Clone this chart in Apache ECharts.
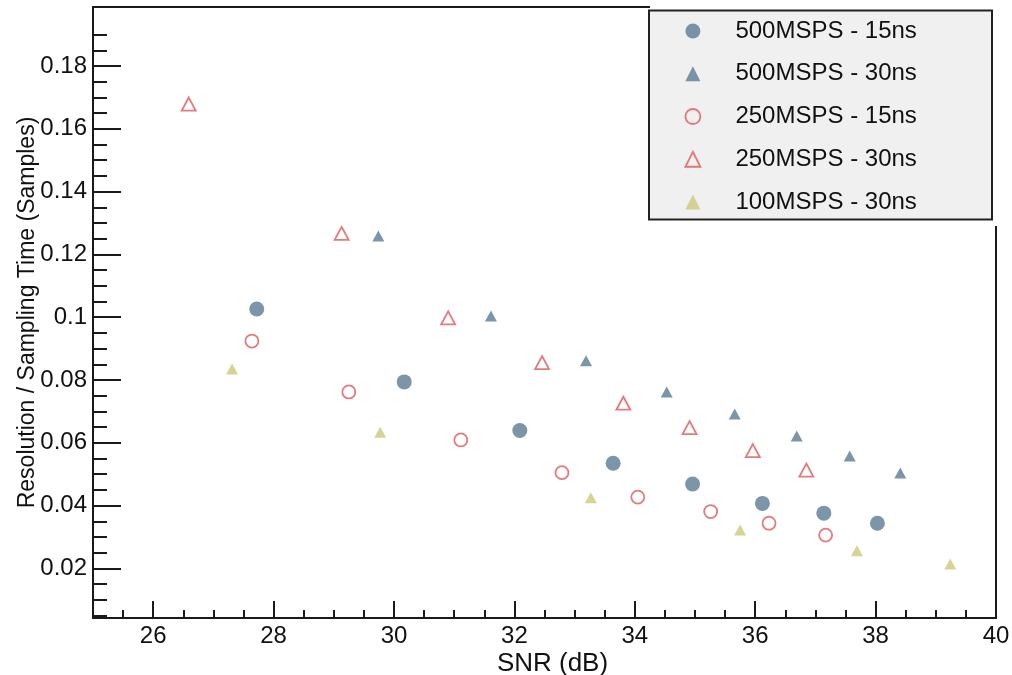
<!DOCTYPE html>
<html>
<head>
<meta charset="utf-8">
<script src="https://cdn.jsdelivr.net/npm/echarts@6/dist/echarts.min.js"></script>
<style>
  html, body { margin: 0; padding: 0; background: #ffffff; }
  #chart { width: 1012px; height: 675px; }
</style>
</head>
<body>
<div id="chart"></div>
<script>
// Timing resolution (in units of the sampling period) versus signal-to-noise ratio
const seriesNames = ['500MSPS - 15ns', '500MSPS - 30ns', '250MSPS - 15ns', '250MSPS - 30ns', '100MSPS - 30ns'];

const snr500_15 = [27.72, 30.17, 32.09, 33.64, 34.96, 36.12, 37.14, 38.03];
const res500_15 = [0.1026, 0.0794, 0.0639, 0.0535, 0.0469, 0.0407, 0.0376, 0.0344];

const snr500_30 = [29.74, 31.61, 33.19, 34.53, 35.66, 36.69, 37.57, 38.41];
const res500_30 = [0.1259, 0.1004, 0.0861, 0.0762, 0.0692, 0.0622, 0.0558, 0.0504];

const snr250_15 = [27.64, 29.25, 31.11, 32.79, 34.05, 35.26, 36.23, 37.17];
const res250_15 = [0.0924, 0.0762, 0.0609, 0.0505, 0.0427, 0.0381, 0.0344, 0.0306];

const snr250_30 = [26.59, 29.13, 30.90, 32.46, 33.81, 34.91, 35.96, 36.85];
const res250_30 = [0.1679, 0.1267, 0.0998, 0.0855, 0.0726, 0.0648, 0.0575, 0.0513];

const snr100_30 = [27.31, 29.77, 33.27, 35.75, 37.69, 39.24];
const res100_30 = [0.0835, 0.0634, 0.0425, 0.0322, 0.0256, 0.0214];

const xTickLabels = ['26', '28', '30', '32', '34', '36', '38', '40'];
const yTickLabels = ['0.02', '0.04', '0.06', '0.08', '0.1', '0.12', '0.14', '0.16', '0.18'];

const xMin = 25, xMax = 40;
const yMin = 0.0042, yMax = 0.1988;

const FONT = 'Liberation Sans, Arial, Helvetica, sans-serif';
const BLUE = '#5b7a94';
const RED = '#dc5a5d';
const YELLOW = '#cdc87a';

const xMajor = xTickLabels.map(Number);
const yMajor = yTickLabels.map(Number);
const xMinor = [];
for (let i = 1; i < 30; i++) xMinor.push(xMin + i * 0.5);
const yMinor = [];
for (let i = 1; i < 39; i++) yMinor.push(+(i * 0.005).toFixed(3));

function pairs(xs, ys) { return xs.map((x, i) => [x, ys[i]]); }

const chart = echarts.init(document.getElementById('chart'), null, { renderer: 'canvas' });

const openStyle = c => ({ color: 'rgba(0,0,0,0)', borderColor: c, borderWidth: 1.8 });

chart.setOption({
  animation: false,
  backgroundColor: '#ffffff',
  textStyle: { fontFamily: FONT },
  grid: {
    left: 93, top: 7, width: 903, height: 611,
    outerBoundsMode: 'none', containLabel: false,
    show: true, borderColor: '#1a1a1a', borderWidth: 2, backgroundColor: 'transparent'
  },
  xAxis: [
    {
      type: 'value', min: xMin, max: xMax, position: 'bottom',
      name: 'SNR (dB)', nameLocation: 'middle', nameGap: 33, nameMoveOverlap: false,
      nameTextStyle: { fontSize: 26, color: '#111', fontFamily: FONT, padding: [0, 0, 0, 16] },
      axisLine: { show: false },
      axisTick: { show: true, inside: true, length: 17, customValues: xMajor, lineStyle: { color: '#1a1a1a', width: 2 } },
      axisLabel: { show: true, customValues: xMajor, fontSize: 24, color: '#111', fontFamily: FONT, margin: 6 },
      splitLine: { show: false }
    },
    {
      type: 'value', min: xMin, max: xMax, position: 'bottom',
      axisLine: { show: false },
      axisTick: { show: true, inside: true, length: 8, customValues: xMinor, lineStyle: { color: '#1a1a1a', width: 2 } },
      axisLabel: { show: false },
      splitLine: { show: false }
    }
  ],
  yAxis: [
    {
      type: 'value', min: yMin, max: yMax, position: 'left',
      name: 'Resolution / Sampling Time (Samples)', nameLocation: 'middle', nameGap: 54, nameRotate: 90,
      nameMoveOverlap: false,
      nameTextStyle: { fontSize: 23, color: '#111', fontFamily: FONT },
      axisLine: { show: false },
      axisTick: { show: true, inside: true, length: 28, customValues: yMajor, lineStyle: { color: '#1a1a1a', width: 2 } },
      axisLabel: {
        show: true, customValues: yMajor, fontSize: 24, color: '#111', fontFamily: FONT, margin: 6,
        formatter: v => String(+v.toFixed(2))
      },
      splitLine: { show: false }
    },
    {
      type: 'value', min: yMin, max: yMax, position: 'left',
      axisLine: { show: false },
      axisTick: { show: true, inside: true, length: 14, customValues: yMinor, lineStyle: { color: '#1a1a1a', width: 2 } },
      axisLabel: { show: false },
      splitLine: { show: false }
    }
  ],
  legend: {
    orient: 'vertical', left: 684.5, top: 19, padding: 0, z: 6,
    itemWidth: 15, itemHeight: 15, itemGap: 18.75,
    formatter: name => '{gap|}' + name,
    textStyle: {
      fontSize: 24, lineHeight: 24, color: '#111', fontFamily: FONT,
      rich: { gap: { width: 30 } }
    },
    data: [
      { name: seriesNames[0], icon: 'circle', itemStyle: { color: BLUE, borderWidth: 0 } },
      { name: seriesNames[1], icon: 'triangle', itemStyle: { color: BLUE, borderWidth: 0 } },
      { name: seriesNames[2], icon: 'circle', itemStyle: { color: 'rgba(0,0,0,0)', borderColor: RED, borderWidth: 1.8 } },
      { name: seriesNames[3], icon: 'triangle', itemStyle: { color: 'rgba(0,0,0,0)', borderColor: RED, borderWidth: 1.8 } },
      { name: seriesNames[4], icon: 'triangle', itemStyle: { color: YELLOW, borderWidth: 0 } }
    ]
  },
  graphic: [
    // legend shadow area and box
    { type: 'rect', z: 5, shape: { x: 650, y: 0, width: 362, height: 226 }, style: { fill: '#ffffff' } },
    { type: 'rect', z: 5, shape: { x: 649, y: 10.5, width: 343, height: 209 }, style: { fill: '#f0f0f0', stroke: '#222', lineWidth: 2 } }
  ],
  series: [
    {
      name: seriesNames[0], type: 'scatter', symbol: 'circle', symbolSize: 15,
      itemStyle: { color: BLUE }, data: pairs(snr500_15, res500_15)
    },
    {
      name: seriesNames[1], type: 'scatter', symbol: 'triangle', symbolSize: [12, 11],
      itemStyle: { color: BLUE }, data: pairs(snr500_30, res500_30)
    },
    {
      name: seriesNames[2], type: 'scatter', symbol: 'circle', symbolSize: 13,
      itemStyle: openStyle(RED), data: pairs(snr250_15, res250_15)
    },
    {
      name: seriesNames[3], type: 'scatter', symbol: 'triangle', symbolSize: [14, 13],
      itemStyle: openStyle(RED), data: pairs(snr250_30, res250_30)
    },
    {
      name: seriesNames[4], type: 'scatter', symbol: 'triangle', symbolSize: [12, 11],
      itemStyle: { color: YELLOW }, data: pairs(snr100_30, res100_30)
    }
  ]
});
</script>
</body>
</html>
